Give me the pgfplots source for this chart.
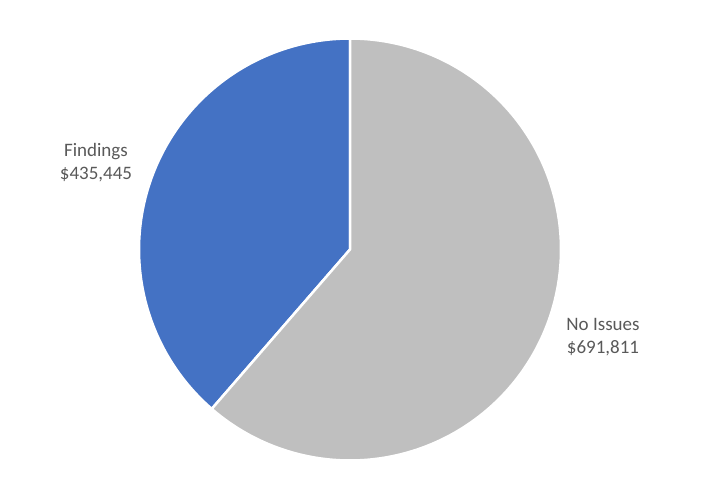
\documentclass[border=0pt]{standalone}
\usepackage{pgfplots}
\pgfplotsset{compat=1.18}
\usepackage{fontspec}
\setmainfont{Carlito}
\definecolor{sliceblue}{HTML}{4472C4}
\definecolor{slicegrey}{HTML}{BFBFBF}
\definecolor{labeltext}{HTML}{595959}

% slice values
\def\valFindings{435445}
\def\valNoIssues{691811}
% Findings runs counter-clockwise from 12 o'clock, No Issues fills the rest
\def\angA{90}
\edef\angB{\fpeval{90+360*\valFindings/(\valFindings+\valNoIssues)}}
\def\angC{450}

\begin{document}
\begin{tikzpicture}
\begin{axis}[
  scale only axis, width=715pt, height=488pt,
  xmin=0, xmax=715, ymin=0, ymax=488,
  hide axis, clip=false,
]
\def\cx{350}\def\cy{238.5}\def\r{211}
% keep the full chart area as the picture's extent
\path (axis cs:0,0) rectangle (axis cs:715,488);
% Findings
\addplot[fill=sliceblue, draw=white, line width=2.5pt, line join=round,
  domain=\angA:\angB, samples=120, smooth]
  ({\cx+\r*cos(x)}, {\cy+\r*sin(x)}) -- (axis cs:\cx,\cy) -- cycle;
% No Issues
\addplot[fill=slicegrey, draw=white, line width=2.5pt, line join=round,
  domain=\angB:\angC, samples=160, smooth]
  ({\cx+\r*cos(x)}, {\cy+\r*sin(x)}) -- (axis cs:\cx,\cy) -- cycle;

\node[align=center, text=labeltext, font=\fontsize{19}{23}\selectfont]
  at (axis cs:96,325) {Findings\\\$435,445};
\node[align=center, text=labeltext, font=\fontsize{19}{23}\selectfont]
  at (axis cs:603,151) {No Issues\\\$691,811};
\end{axis}
\end{tikzpicture}
\end{document}
